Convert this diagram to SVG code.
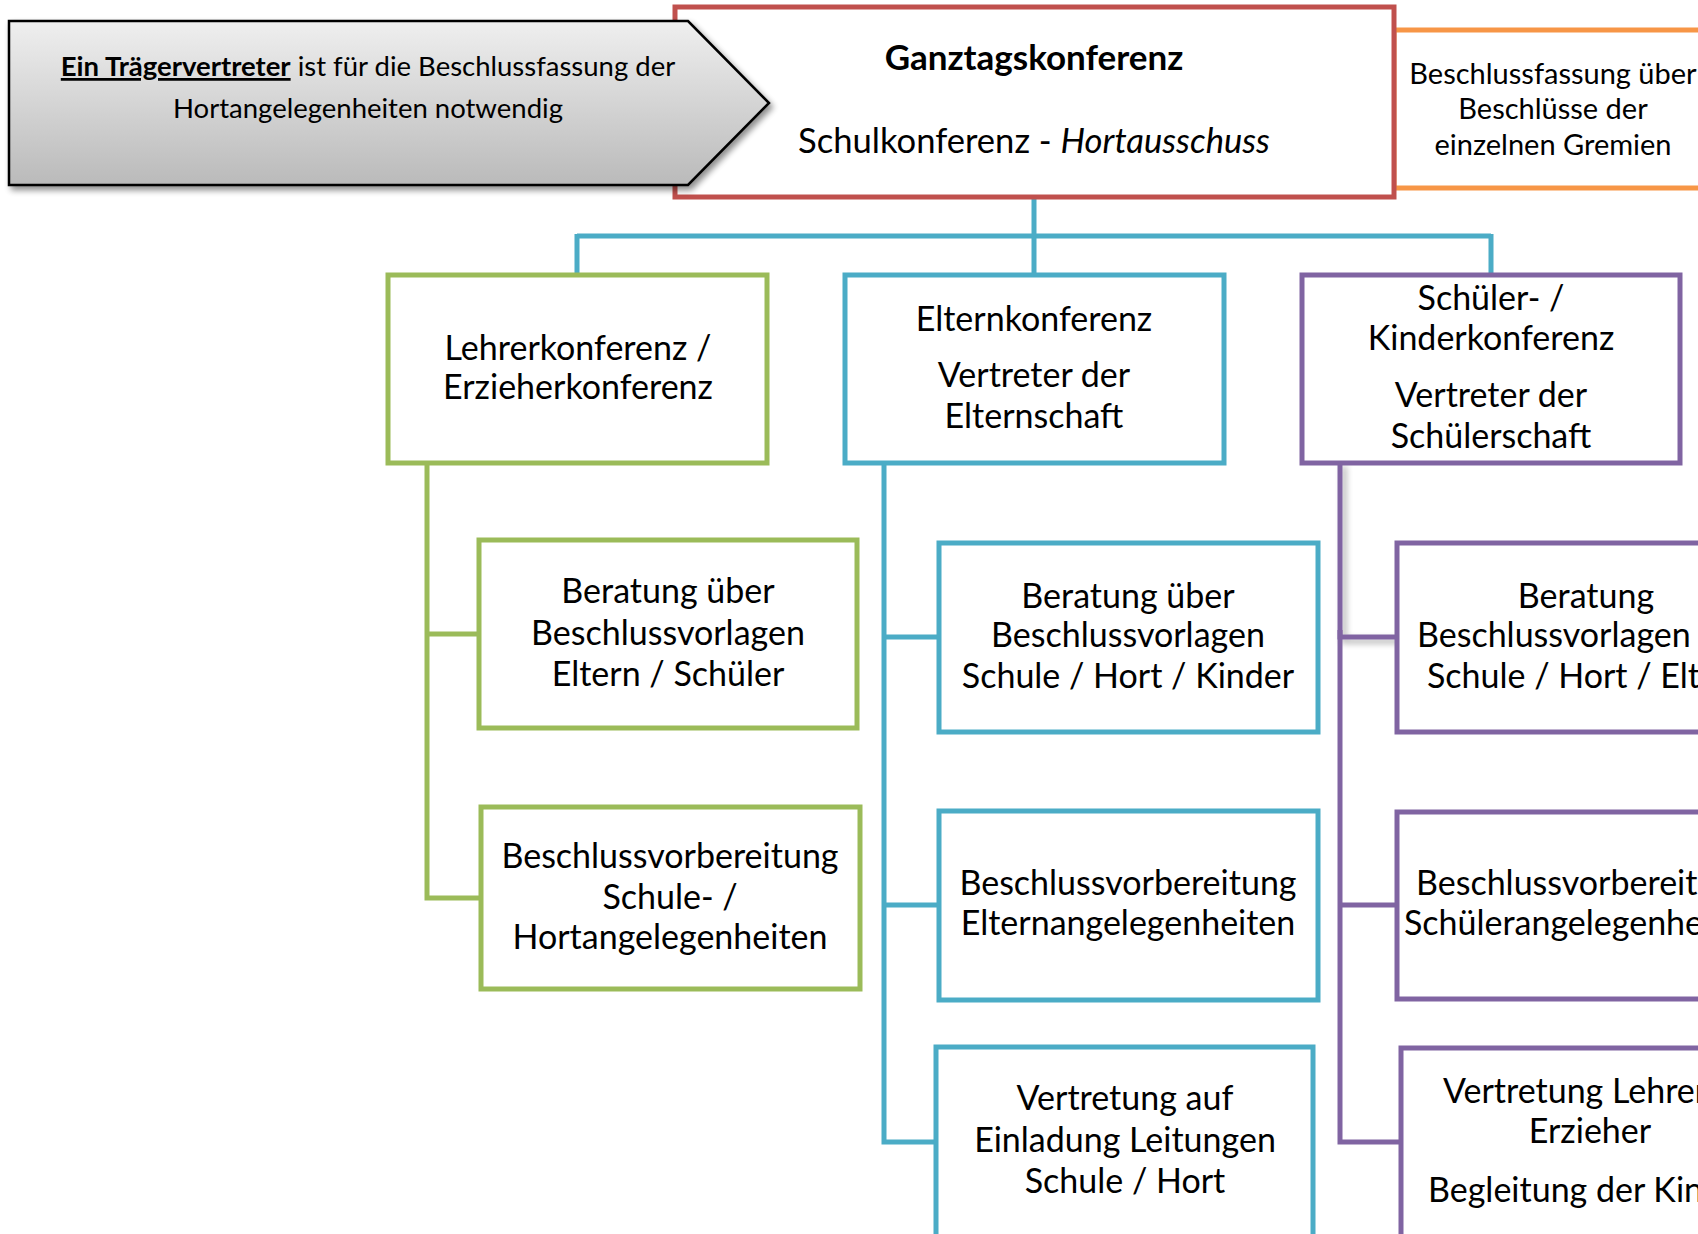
<svg xmlns="http://www.w3.org/2000/svg" width="1698" height="1234" viewBox="0 0 1698 1234">
<defs>
  <style>
    .box { fill: #ffffff; stroke-width: 5; }
    .g { stroke: #9BBB59; }
    .b { stroke: #4BACC6; }
    .p { stroke: #8064A2; }
    .line { fill: none; stroke-width: 5; stroke-linejoin: miter; }
    .t { font-family: Lato, "Open Sans", "Liberation Sans", sans-serif; fill: #000000; }
    .big { font-size: 34px; text-anchor: middle; }
    .bigL { font-size: 34px; text-anchor: start; }
    .small { font-size: 27.5px; text-anchor: middle; }
    .orange { font-size: 29px; text-anchor: middle; }
  </style>
  <linearGradient id="grayGrad" x1="0" y1="0" x2="0" y2="1">
    <stop offset="0" stop-color="#efefef"/>
    <stop offset="1" stop-color="#bababa"/>
  </linearGradient>
  <filter id="shadow" x="-10%" y="-10%" width="130%" height="140%">
    <feGaussianBlur in="SourceAlpha" stdDeviation="3"/>
    <feOffset dx="3" dy="4" result="o"/>
    <feComponentTransfer><feFuncA type="linear" slope="0.45"/></feComponentTransfer>
    <feMerge><feMergeNode/><feMergeNode in="SourceGraphic"/></feMerge>
  </filter>
  <filter id="lineShadow" x="-50%" y="-10%" width="300%" height="130%">
    <feGaussianBlur in="SourceAlpha" stdDeviation="3"/>
    <feOffset dx="4" dy="4"/>
    <feComponentTransfer><feFuncA type="linear" slope="0.3"/></feComponentTransfer>
    <feMerge><feMergeNode/><feMergeNode in="SourceGraphic"/></feMerge>
  </filter>
</defs>
<rect x="0" y="0" width="1698" height="1234" fill="#ffffff"/>

<g id="connectors">
  <path class="line b" d="M1034 197 V236 M577 236 H1491 M577 234 V276 M1034 234 V276 M1491 234 V276"/>
  <path class="line g" d="M427 462 V898 H481 M427 634 H480"/>
  <path class="line b" d="M884 462 V1142 H937 M884 637 H940 M884 905 H940"/>
  <path class="line p" filter="url(#lineShadow)" d="M1340 462 V637 H1398"/>
  <path class="line p" d="M1340 630 V1142 H1402 M1340 905 H1398"/>
</g>

<g id="node-beschlussfassung">
  <rect x="1394" y="30" width="330" height="158" fill="#ffffff" stroke="#F79646" stroke-width="5"/>
  <text class="t orange" x="1553" y="84">Beschlussfassung über</text>
  <text class="t orange" x="1553" y="119">Beschlüsse der</text>
  <text class="t orange" x="1553" y="155">einzelnen Gremien</text>
</g>

<g id="node-ganztag">
  <rect x="675" y="7" width="719" height="190" fill="#ffffff" stroke="#C0504D" stroke-width="5"/>
  <text class="t" font-size="35" font-weight="bold" text-anchor="middle" x="1034" y="70">Ganztagskonferenz</text>
  <text class="t" font-size="34.6" text-anchor="middle" x="1034" y="153">Schulkonferenz - <tspan font-style="italic">Hortausschuss</tspan></text>
</g>

<g id="node-traeger">
  <polygon points="9,21 688,21 769,103 688,185 9,185" fill="url(#grayGrad)" stroke="#000000" stroke-width="2.5" filter="url(#shadow)"/>
  <text class="t small" x="368" y="76"><tspan font-weight="bold" text-decoration="underline">Ein Trägervertreter</tspan> ist für die Beschlussfassung der</text>
  <text class="t small" x="368" y="118">Hortangelegenheiten notwendig</text>
</g>

<g id="node-lehrer">
  <rect class="box g" x="388" y="275" width="379" height="188"/>
  <text class="t big" x="578" y="360">Lehrerkonferenz /</text>
  <text class="t big" x="578" y="399">Erzieherkonferenz</text>
</g>

<g id="node-eltern">
  <rect class="box b" x="845" y="275" width="379" height="188"/>
  <text class="t big" x="1034" y="331">Elternkonferenz</text>
  <text class="t big" x="1034" y="387">Vertreter der</text>
  <text class="t big" x="1034" y="428">Elternschaft</text>
</g>

<g id="node-schueler">
  <rect class="box p" x="1302" y="275" width="378" height="188"/>
  <text class="t big" x="1491" y="310">Schüler- /</text>
  <text class="t big" x="1491" y="350">Kinderkonferenz</text>
  <text class="t big" x="1491" y="407">Vertreter der</text>
  <text class="t big" x="1491" y="448">Schülerschaft</text>
</g>

<g id="node-g1">
  <rect class="box g" x="479" y="540" width="378" height="188"/>
  <text class="t big" x="668" y="603">Beratung über</text>
  <text class="t big" x="668" y="645">Beschlussvorlagen</text>
  <text class="t big" x="668" y="686">Eltern / Schüler</text>
</g>

<g id="node-g2">
  <rect class="box g" x="481" y="807" width="379" height="182"/>
  <text class="t big" x="670" y="868">Beschlussvorbereitung</text>
  <text class="t big" x="670" y="909">Schule- /</text>
  <text class="t big" x="670" y="949">Hortangelegenheiten</text>
</g>

<g id="node-b1">
  <rect class="box b" x="939" y="543" width="379" height="189"/>
  <text class="t big" x="1128" y="608">Beratung über</text>
  <text class="t big" x="1128" y="647">Beschlussvorlagen</text>
  <text class="t big" x="1128" y="688">Schule / Hort / Kinder</text>
</g>

<g id="node-b2">
  <rect class="box b" x="939" y="811" width="379" height="189"/>
  <text class="t big" x="1128" y="895">Beschlussvorbereitung</text>
  <text class="t big" x="1128" y="935">Elternangelegenheiten</text>
</g>

<g id="node-b3">
  <rect class="box b" x="936" y="1047" width="377" height="220"/>
  <text class="t big" x="1125" y="1110">Vertretung auf</text>
  <text class="t big" x="1125" y="1152">Einladung Leitungen</text>
  <text class="t big" x="1125" y="1193">Schule / Hort</text>
</g>

<g id="node-p1">
  <rect class="box p" x="1397" y="543" width="379" height="189"/>
  <text class="t big" x="1586" y="608">Beratung</text>
  <text class="t bigL" x="1417" y="647">Beschlussvorlagen</text>
  <text class="t bigL" x="1427" y="688">Schule / Hort / Eltern</text>
</g>

<g id="node-p2">
  <rect class="box p" x="1397" y="812" width="379" height="187"/>
  <text class="t bigL" x="1416" y="895">Beschlussvorbereitung</text>
  <text class="t bigL" x="1404" y="935">Schülerangelegenheiten</text>
</g>

<g id="node-p3">
  <rect class="box p" x="1401" y="1048" width="379" height="220"/>
  <text class="t bigL" x="1443" y="1103">Vertretung Lehrer /</text>
  <text class="t big" x="1590" y="1143">Erzieher</text>
  <text class="t bigL" x="1428" y="1202">Begleitung der Kinder</text>
</g>
</svg>
